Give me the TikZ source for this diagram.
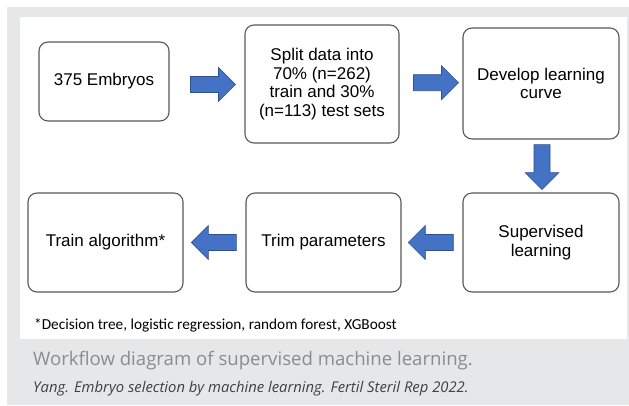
\documentclass[tikz,border=0pt]{standalone}
\usepackage{fontspec}
\setmainfont{Liberation Sans}
\newfontfamily\notefont{Open Sans}
\newfontfamily\footfont{Carlito}
\usetikzlibrary{calc}

\definecolor{pagegray}{HTML}{E6E7E8}
\definecolor{boxedge}{HTML}{595959}
\definecolor{arrowblue}{HTML}{4472C4}
\definecolor{arrowedge}{HTML}{2F528F}
\definecolor{captiongray}{HTML}{8C8C8C}
\definecolor{citegray}{HTML}{404040}

\tikzset{
  stepbox/.style={draw=boxedge, line width=1.1pt, rounded corners=9pt, fill=white,
    align=center, inner sep=2pt,
    font=\fontsize{17}{18.6}\selectfont},
  % wide block arrow pointing along +x, centred on the pic origin
  blockarrow/.pic={
    \draw[draw=arrowedge, line width=0.6pt, fill=arrowblue]
      (-22.5,-8) -- (5.5,-8) -- (5.5,-17) -- (22.5,0) -- (5.5,17) -- (5.5,8)
      -- (-22.5,8) -- cycle;
  },
  notetext/.style={anchor=base west, inner sep=0pt}
}

\begin{document}
\begin{tikzpicture}[x=1pt, y=-1pt]
  \useasboundingbox (0,0) rectangle (629,405);
  % page background and white panel
  \fill[pagegray] (7,7) rectangle (629,405);
  \fill[white] (20,17) rectangle (627,339);

  % process steps
  \node[stepbox, minimum width=130pt, minimum height=79pt] (embryos) at (104,81.5) {375 Embryos};
  \node[stepbox, minimum width=154pt, minimum height=118pt] (split) at (322,84)
    {Split data into\\70\% (n=262)\\train and 30\%\\(n=113) test sets};
  \node[stepbox, minimum width=156pt, minimum height=111pt] (curve) at (541,83.5)
    {Develop learning\\curve};
  \node[stepbox, minimum width=156pt, minimum height=99pt] (superv) at (541,242.5)
    {Supervised\\learning};
  \node[stepbox, minimum width=155pt, minimum height=99pt] (trim) at (323.5,242.5)
    {Trim parameters};
  \node[stepbox, minimum width=155pt, minimum height=99pt] (train) at (105.5,242.5)
    {Train algorithm*};

  % block arrows between the steps
  \coordinate (a1) at ($(embryos.east)!0.58!(split.west)+(0,1.5)$);
  \coordinate (a2) at ($(split.east)!0.58!(curve.west)+(0,-1)$);
  \coordinate (a3) at ($(curve.south)!0.52!(superv.north)+(1,0)$);
  \coordinate (a4) at ($(superv.west)!0.52!(trim.east)$);
  \coordinate (a5) at ($(trim.west)!0.51!(train.east)$);
  \pic at (a1) {blockarrow};
  \pic at (a2) {blockarrow};
  \pic[rotate=-90] at (a3) {blockarrow};
  \pic[rotate=180] at (a4) {blockarrow};
  \pic[rotate=180] at (a5) {blockarrow};

  % footnote, caption and source line
  \node[notetext, font=\footfont\fontsize{15.3}{17}\selectfont] (foot) at (34,329)
    {*Decision tree, logistic regression, random forest, XGBoost};
  \node[notetext, text=captiongray, font=\notefont\fontsize{18.6}{20}\selectfont] (caption) at (33,365)
    {Workflow diagram of supervised machine learning.};
  \node[notetext, text=citegray, font=\notefont\itshape\fontsize{14.8}{16}\selectfont] (cite) at (33,392)
    {Yang. Embryo selection by machine learning. Fertil Steril Rep 2022.};
\end{tikzpicture}
\end{document}
